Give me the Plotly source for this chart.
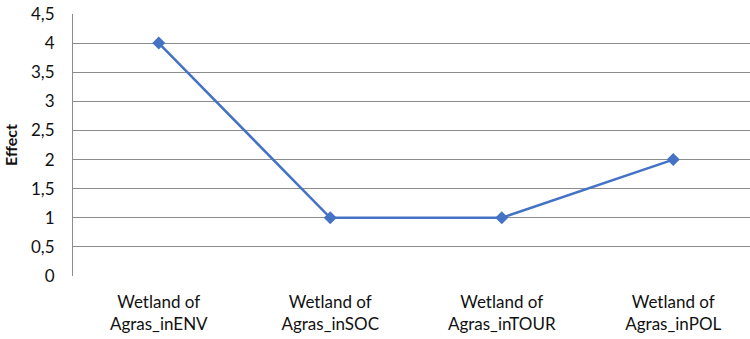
import plotly.graph_objects as go

categories = ["Wetland of<br>Agras_inENV", "Wetland of<br>Agras_inSOC",
              "Wetland of<br>Agras_inTOUR", "Wetland of<br>Agras_inPOL"]
effect = [4, 1, 1, 2]
y_ticks = [0, 0.5, 1, 1.5, 2, 2.5, 3, 3.5, 4, 4.5]
y_tick_text = ["0", "0,5", "1", "1,5", "2", "2,5", "3", "3,5", "4", "4,5"]

blue = "#4472C4"
grid = "#8c8c8c"
font = "Lato"

fig = go.Figure(go.Scatter(
    x=list(range(len(categories))), y=effect,
    mode="lines+markers",
    line=dict(color=blue, width=2.5),
    marker=dict(symbol="diamond", size=10, color=blue),
))

fig.update_layout(
    width=750, height=339,
    margin=dict(l=73, r=0, t=14, b=63),
    paper_bgcolor="white", plot_bgcolor="white",
    showlegend=False,
    font=dict(family=font, size=17, color="#111111"),
)
fig.update_xaxes(
    range=[-0.5, -0.5 + 677 / 171.5],
    tickvals=list(range(len(categories))), ticktext=categories,
    showgrid=False, zeroline=False,
    showline=False, ticks="",
    ticklabelstandoff=14,
)
fig.update_yaxes(
    range=[0, 4.5],
    tickvals=y_ticks, ticktext=y_tick_text,
    showgrid=True, gridcolor=grid, gridwidth=1,
    zeroline=False, showline=True, linecolor=grid, linewidth=1,
    ticks="", ticklabelstandoff=14,
    title=dict(text="<b>Effect</b>", font=dict(size=16), standoff=9),
)

fig.write_html("out.html")
